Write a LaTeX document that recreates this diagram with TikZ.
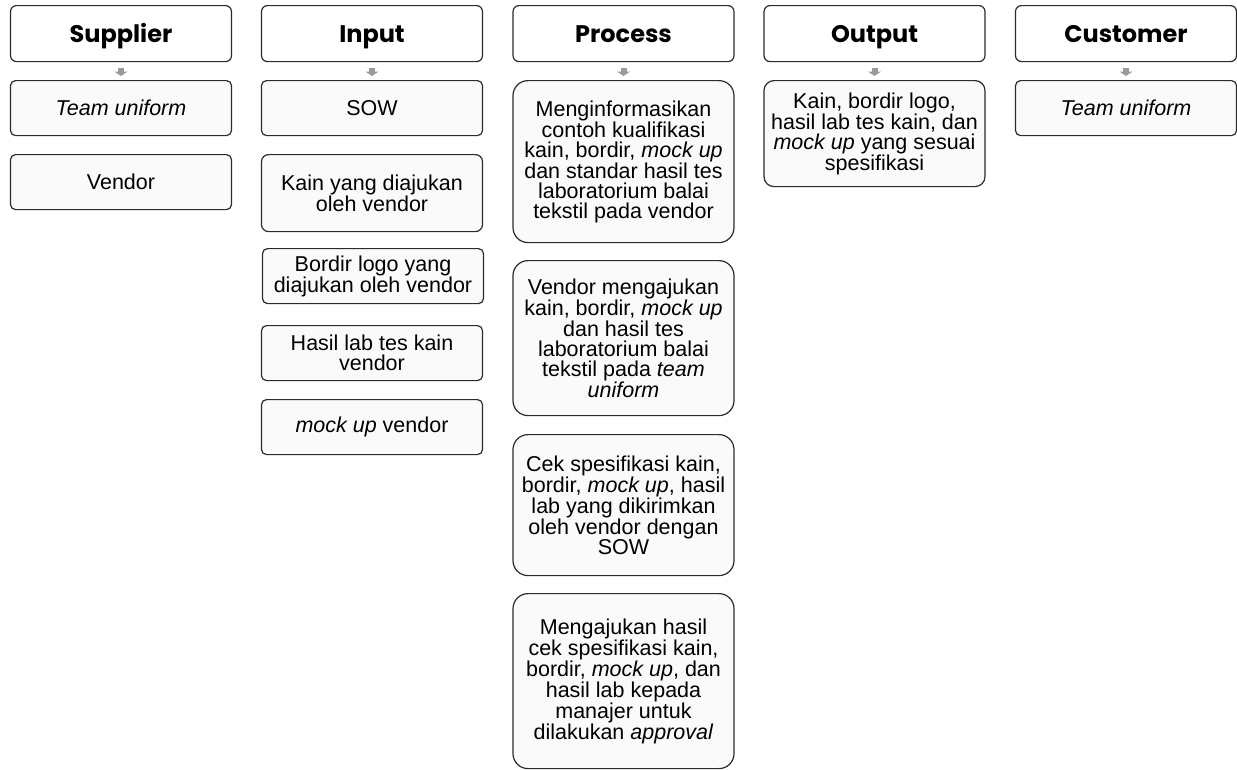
\documentclass[tikz,border=0pt]{standalone}
\usepackage{fontspec}
\setmainfont{Liberation Sans}
\newfontfamily\headfont{Poppins}
\usetikzlibrary{arrows.meta}

\definecolor{edgegray}{HTML}{2B2B2B}
\definecolor{arrowgray}{HTML}{9A9A9A}
\definecolor{boxfill}{HTML}{FAFAFA}

\tikzset{
  basebox/.style={draw=edgegray, line width=1.2pt, minimum width=221pt,
    inner sep=2pt, align=center, anchor=north},
  headbox/.style={basebox, fill=white, minimum height=56pt, rounded corners=6pt,
    text height=17pt, text depth=0pt,
    font=\headfont\bfseries\fontsize{24}{26}\selectfont},
  itembox/.style={basebox, fill=boxfill, rounded corners=#1,
    font=\fontsize{21.5}{20}\selectfont},
  itembox/.default=5pt,
  downarrow/.style={draw=arrowgray, line width=6pt,
    -{Triangle[width=13pt,length=4.5pt]}, shorten <=6pt, shorten >=4pt}
}

\begin{document}
\begin{tikzpicture}[x=1pt, y=-1pt]
\useasboundingbox (0,0) rectangle (1237,769);

% column headers
\node[headbox] (hs) at (121,5)    {Supplier};
\node[headbox] (hi) at (372,5)    {Input};
\node[headbox] (hp) at (623.5,5)  {Process};
\node[headbox] (ho) at (874.5,5)  {Output};
\node[headbox] (hc) at (1126,5)   {Customer};

% supplier
\node[itembox, minimum height=55pt] (s1) at (121,80)  {\textit{Team uniform}};
\node[itembox, minimum height=55pt] (s2) at (121,154) {Vendor};

% input
\node[itembox, minimum height=55pt] (i1) at (372,80)  {SOW};
\node[itembox=7pt, minimum height=77pt] (i2) at (372,154) {Kain yang diajukan\\oleh vendor};
\node[itembox, minimum height=55pt] (i3) at (373,248) {Bordir logo yang\\diajukan oleh vendor};
\node[itembox, minimum height=55pt] (i4) at (372,325) {Hasil lab tes kain\\vendor};
\node[itembox, minimum height=55pt] (i5) at (372,399) {\textit{mock up} vendor};

% process
\node[itembox=15pt, minimum height=162pt] (p1) at (623.5,80)
  {Menginformasikan\\contoh kualifikasi\\kain, bordir, \textit{mock up}\\dan standar hasil tes\\laboratorium balai\\tekstil pada vendor};
\node[itembox=15pt, minimum height=155pt] (p2) at (623.5,260)
  {Vendor mengajukan\\kain, bordir, \textit{mock up}\\dan hasil tes\\laboratorium balai\\tekstil pada \textit{team}\\\textit{uniform}};
\node[itembox=15pt, minimum height=141pt] (p3) at (623.5,434)
  {Cek spesifikasi kain,\\bordir, \textit{mock up}, hasil\\lab yang dikirimkan\\oleh vendor dengan\\SOW};
\node[itembox=15pt, minimum height=175pt] (p4) at (623.5,593)
  {Mengajukan hasil\\cek spesifikasi kain,\\bordir, \textit{mock up}, dan\\hasil lab kepada\\manajer untuk\\dilakukan \textit{approval}};

% output
\node[itembox=10pt, minimum height=106pt] (o1) at (874.5,80)
  {Kain, bordir logo,\\hasil lab tes kain, dan\\\textit{mock up} yang sesuai\\spesifikasi};

% customer
\node[itembox, minimum height=55pt] (c1) at (1126,80) {\textit{Team uniform}};

% small arrows under each header
\draw[downarrow] (hs) -- (s1);
\draw[downarrow] (hi) -- (i1);
\draw[downarrow] (hp) -- (p1);
\draw[downarrow] (ho) -- (o1);
\draw[downarrow] (hc) -- (c1);
\end{tikzpicture}
\end{document}
